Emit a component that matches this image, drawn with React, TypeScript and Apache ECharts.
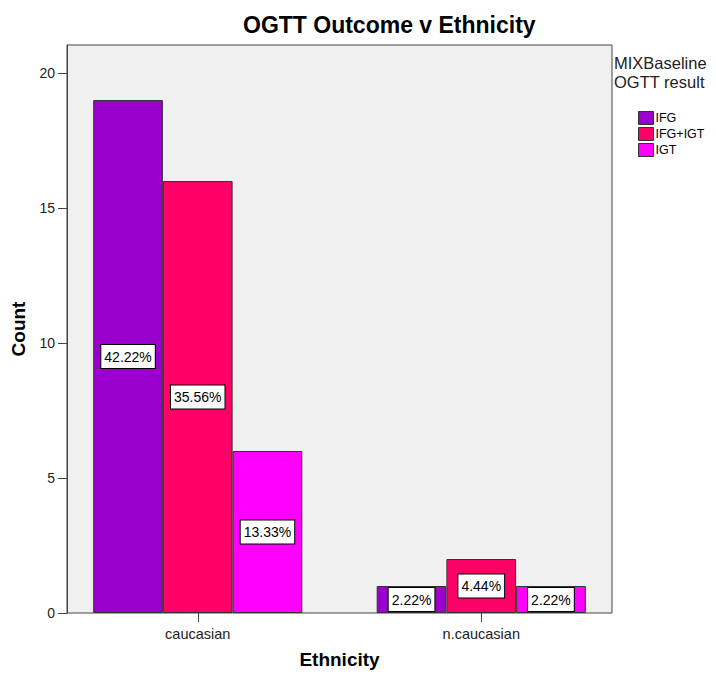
import React, { useEffect, useRef } from "react";
import * as echarts from "echarts";

const categories = ["caucasian", "n.caucasian"];
const seriesNames = ["IFG", "IFG+IGT", "IGT"];
const ifgCounts = [19, 1];
const ifgIgtCounts = [16, 2];
const igtCounts = [6, 1];
const ifgPct = ["42.22%", "2.22%"];
const ifgIgtPct = ["35.56%", "4.44%"];
const igtPct = ["13.33%", "2.22%"];
const yTicks = [0, 5, 10, 15, 20];

const colors = ["#9900CC", "#FF0066", "#FF00FF"];

export default function App() {
  const ref = useRef<HTMLDivElement>(null);
  useEffect(() => {
    if (!ref.current) return;
    const chart = echarts.init(ref.current, undefined, { renderer: "svg" });
    const font = "Arial, 'Liberation Sans', sans-serif";
    const counts = [ifgCounts, ifgIgtCounts, igtCounts];
    const pcts = [ifgPct, ifgIgtPct, igtPct];
    const yMax = 21.04;
    chart.setOption({
      animation: false,
      backgroundColor: "#ffffff",
      title: {
        text: "OGTT Outcome v Ethnicity",
        left: 238,
        top: 8,
        textStyle: { fontFamily: font, fontSize: 23, fontWeight: "bold", color: "#000" },
      },
      graphic: [
        {
          type: "text",
          left: 614,
          top: 53,
          style: {
            text: "MIXBaseline\nOGTT result",
            fontFamily: font,
            fontSize: 16.5,
            lineHeight: 19,
            fill: "#222",
          },
        },
      ],
      legend: {
        orient: "vertical",
        left: 633,
        top: 106,
        itemWidth: 15,
        itemHeight: 13,
        itemGap: 2,
        icon: "rect",
        data: seriesNames,
        itemStyle: { borderColor: "#333", borderWidth: 1 },
        textStyle: { fontFamily: font, fontSize: 12.5, color: "#000", padding: [0, 0, 0, -3] },
      },
      grid: [
        {
          left: 67,
          right: 104,
          top: 45,
          bottom: 62,
          show: true,
          containLabel: false,
          outerBoundsMode: "none",
          backgroundColor: "#F0F0F0",
          borderColor: "#444",
          borderWidth: 1,
        },
        {
          left: 56,
          width: 567,
          top: 45,
          bottom: 62,
          containLabel: false,
          outerBoundsMode: "none",
        },
      ],
      xAxis: [
        {
          gridIndex: 0,
          type: "category",
          data: categories,
          show: false,
        },
        {
          gridIndex: 1,
          type: "category",
          data: categories,
          name: "Ethnicity",
          nameLocation: "middle",
          nameGap: 37,
          nameTextStyle: { fontFamily: font, fontSize: 19, fontWeight: "bold", color: "#000" },
          axisLine: { show: false },
          axisTick: { show: true, alignWithLabel: true, length: 9, lineStyle: { color: "#444" } },
          axisLabel: { fontFamily: font, fontSize: 14.5, color: "#222", margin: 13 },
          splitLine: { show: false },
        },
      ],
      yAxis: [
        {
          gridIndex: 0,
          type: "value",
          min: 0,
          max: yMax,
          interval: 5,
          name: "Count",
          nameLocation: "middle",
          nameGap: 39,
          nameTextStyle: { fontFamily: font, fontSize: 19, fontWeight: "bold", color: "#000" },
          axisLine: { show: true, lineStyle: { color: "#444" } },
          axisTick: { show: true, length: 9, lineStyle: { color: "#444" } },
          axisLabel: {
            fontFamily: font,
            fontSize: 14,
            color: "#222",
            margin: 12,
            showMaxLabel: false,
            formatter: (v: number) => (yTicks.includes(v) ? String(v) : ""),
          },
          splitLine: { show: false },
        },
        {
          gridIndex: 1,
          type: "value",
          min: 0,
          max: yMax,
          show: false,
          splitLine: { show: false },
        },
      ],
      series: seriesNames.map((name, i) => ({
        name,
        type: "bar",
        xAxisIndex: 1,
        yAxisIndex: 1,
        barWidth: 69.7,
        barGap: "0%",
        itemStyle: { color: colors[i], borderColor: "#333", borderWidth: 1 },
        data: counts[i].map((v, j) => ({ value: v, pct: pcts[i][j] })),
        label: {
          show: true,
          position: "inside",
          formatter: (p: any) => p.data.pct,
          fontFamily: font,
          fontSize: 14,
          color: "#000",
          backgroundColor: "#ffffff",
          borderColor: "#000",
          borderWidth: 1,
          padding: [5, 3, 4, 3],
        },
      })),
    });
    return () => chart.dispose();
  }, []);
  return <div ref={ref} style={{ width: 716, height: 675, position: "absolute", left: 0, top: 0 }} />;
}
